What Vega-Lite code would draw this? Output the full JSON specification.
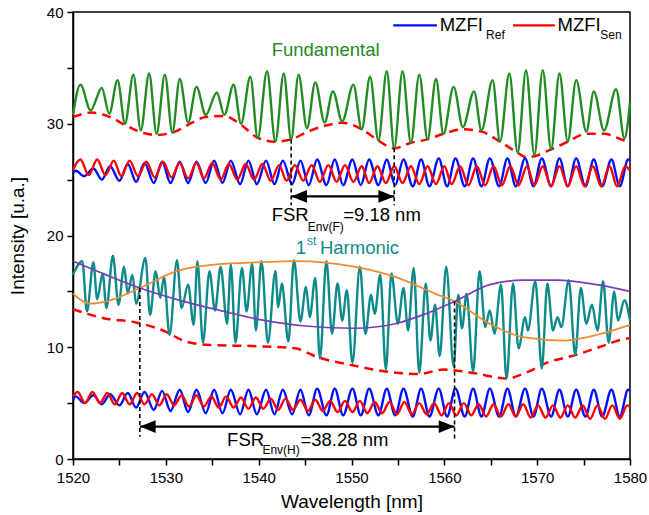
{
"$schema":"https://vega.github.io/schema/vega-lite/v6.json",
"width":557,"height":447,"autosize":{"type":"none"},
"padding":{"left":73,"top":12,"right":19,"bottom":56},
"background":"white",
"config":{"view":{"stroke":"black","strokeWidth":1.5},
"axis":{"grid":false,"domainColor":"black","domainWidth":1.5,"tickColor":"black","tickWidth":1.5,"tickSize":6,"labelFont":"Liberation Sans","labelFontSize":15,"labelColor":"black","titleFont":"Liberation Sans","titleFontSize":19,"titleFontWeight":"normal","titleColor":"black"},
"text":{"font":"Liberation Sans"}},
"datasets":{
"e":[
{"s":"EF","x":1520,"y":30.6},{"s":"EF","x":1522,"y":31.0},{"s":"EF","x":1524,"y":30.6},{"s":"EF","x":1525.6,"y":29.9},{"s":"EF","x":1527.5,"y":29.2},{"s":"EF","x":1529,"y":29.0},{"s":"EF","x":1531,"y":29.3},{"s":"EF","x":1532.4,"y":29.9},{"s":"EF","x":1534.3,"y":30.6},{"s":"EF","x":1536.3,"y":30.7},{"s":"EF","x":1538.1,"y":29.9},{"s":"EF","x":1540,"y":28.7},{"s":"EF","x":1541.8,"y":28.4},{"s":"EF","x":1543.5,"y":28.6},{"s":"EF","x":1545.3,"y":29.3},{"s":"EF","x":1548.1,"y":30.0},{"s":"EF","x":1549,"y":30.1},{"s":"EF","x":1551.1,"y":29.5},{"s":"EF","x":1552.9,"y":28.5},{"s":"EF","x":1554.6,"y":27.8},{"s":"EF","x":1556.4,"y":28.3},{"s":"EF","x":1558.2,"y":28.6},{"s":"EF","x":1559.9,"y":29.1},{"s":"EF","x":1562,"y":29.5},{"s":"EF","x":1564,"y":29.3},{"s":"EF","x":1566,"y":28.4},{"s":"EF","x":1567.9,"y":27.4},{"s":"EF","x":1568.8,"y":27.0},{"s":"EF","x":1569.7,"y":27.1},{"s":"EF","x":1571.5,"y":27.7},{"s":"EF","x":1573.3,"y":28.4},{"s":"EF","x":1575.3,"y":29.1},{"s":"EF","x":1577.2,"y":29.1},{"s":"EF","x":1579.4,"y":28.5},{"s":"EF","x":1580,"y":28.4},
{"s":"EH","x":1520,"y":13.4},{"s":"EH","x":1523.3,"y":12.6},{"s":"EH","x":1526.9,"y":12.2},{"s":"EH","x":1529.7,"y":11.5},{"s":"EH","x":1532.2,"y":10.5},{"s":"EH","x":1534.8,"y":10.2},{"s":"EH","x":1539.7,"y":10.1},{"s":"EH","x":1543.9,"y":9.9},{"s":"EH","x":1546.4,"y":9.1},{"s":"EH","x":1550,"y":8.4},{"s":"EH","x":1554,"y":7.8},{"s":"EH","x":1557.2,"y":7.6},{"s":"EH","x":1559.9,"y":8.0},{"s":"EH","x":1563.1,"y":7.7},{"s":"EH","x":1566.7,"y":7.2},{"s":"EH","x":1569,"y":7.8},{"s":"EH","x":1571,"y":8.6},{"s":"EH","x":1574.1,"y":9.3},{"s":"EH","x":1577,"y":10.1},{"s":"EH","x":1579.2,"y":10.7},{"s":"EH","x":1580,"y":10.8}
],
"c":[
{"s":"BU","x":1520,"y":25.6},{"s":"BU","x":1520.3,"y":25.8},{"s":"BU","x":1521.2,"y":25.3},{"s":"BU","x":1522.2,"y":26.0},{"s":"BU","x":1523.1,"y":25.0},{"s":"BU","x":1524.0,"y":26.2},{"s":"BU","x":1525.0,"y":24.9},{"s":"BU","x":1525.9,"y":26.4},{"s":"BU","x":1526.8,"y":24.8},{"s":"BU","x":1527.7,"y":26.5},{"s":"BU","x":1528.7,"y":24.7},{"s":"BU","x":1529.6,"y":26.6},{"s":"BU","x":1530.5,"y":24.7},{"s":"BU","x":1531.5,"y":26.6},{"s":"BU","x":1532.4,"y":24.7},{"s":"BU","x":1533.3,"y":26.6},{"s":"BU","x":1534.3,"y":24.7},{"s":"BU","x":1535.2,"y":26.7},{"s":"BU","x":1536.1,"y":24.7},{"s":"BU","x":1537.0,"y":26.7},{"s":"BU","x":1538.0,"y":24.6},{"s":"BU","x":1538.9,"y":26.7},{"s":"BU","x":1539.8,"y":24.6},{"s":"BU","x":1540.8,"y":26.7},{"s":"BU","x":1541.7,"y":24.6},{"s":"BU","x":1542.6,"y":26.7},{"s":"BU","x":1543.6,"y":24.6},{"s":"BU","x":1544.5,"y":26.7},{"s":"BU","x":1545.4,"y":24.5},{"s":"BU","x":1546.3,"y":26.8},{"s":"BU","x":1547.3,"y":24.5},{"s":"BU","x":1548.2,"y":26.8},{"s":"BU","x":1549.1,"y":24.5},{"s":"BU","x":1550.1,"y":26.8},{"s":"BU","x":1551.0,"y":24.5},{"s":"BU","x":1551.9,"y":26.8},{"s":"BU","x":1552.9,"y":24.5},{"s":"BU","x":1553.8,"y":26.8},{"s":"BU","x":1554.7,"y":24.5},{"s":"BU","x":1555.6,"y":26.8},{"s":"BU","x":1556.6,"y":24.4},{"s":"BU","x":1557.5,"y":26.8},{"s":"BU","x":1558.4,"y":24.4},{"s":"BU","x":1559.4,"y":26.9},{"s":"BU","x":1560.3,"y":24.4},{"s":"BU","x":1561.2,"y":26.9},{"s":"BU","x":1562.2,"y":24.4},{"s":"BU","x":1563.1,"y":26.9},{"s":"BU","x":1564.0,"y":24.4},{"s":"BU","x":1564.9,"y":26.9},{"s":"BU","x":1565.9,"y":24.4},{"s":"BU","x":1566.8,"y":26.9},{"s":"BU","x":1567.7,"y":24.4},{"s":"BU","x":1568.7,"y":26.9},{"s":"BU","x":1569.6,"y":24.4},{"s":"BU","x":1570.5,"y":26.9},{"s":"BU","x":1571.5,"y":24.4},{"s":"BU","x":1572.4,"y":26.9},{"s":"BU","x":1573.3,"y":24.4},{"s":"BU","x":1574.2,"y":26.9},{"s":"BU","x":1575.2,"y":24.4},{"s":"BU","x":1576.1,"y":26.8},{"s":"BU","x":1577.0,"y":24.4},{"s":"BU","x":1578.0,"y":26.8},{"s":"BU","x":1578.9,"y":24.4},{"s":"BU","x":1579.8,"y":26.8},{"s":"BU","x":1580,"y":26.7},
{"s":"RU","x":1520,"y":25.9},{"s":"RU","x":1520.8,"y":26.8},{"s":"RU","x":1521.7,"y":25.4},{"s":"RU","x":1522.6,"y":26.8},{"s":"RU","x":1523.5,"y":25.4},{"s":"RU","x":1524.4,"y":26.7},{"s":"RU","x":1525.2,"y":25.3},{"s":"RU","x":1526.1,"y":26.7},{"s":"RU","x":1527.0,"y":25.3},{"s":"RU","x":1527.9,"y":26.6},{"s":"RU","x":1528.8,"y":25.2},{"s":"RU","x":1529.7,"y":26.6},{"s":"RU","x":1530.6,"y":25.2},{"s":"RU","x":1531.5,"y":26.5},{"s":"RU","x":1532.4,"y":25.1},{"s":"RU","x":1533.3,"y":26.5},{"s":"RU","x":1534.1,"y":25.1},{"s":"RU","x":1535.0,"y":26.5},{"s":"RU","x":1535.9,"y":25.0},{"s":"RU","x":1536.8,"y":26.4},{"s":"RU","x":1537.7,"y":25.0},{"s":"RU","x":1538.6,"y":26.4},{"s":"RU","x":1539.5,"y":25.0},{"s":"RU","x":1540.4,"y":26.4},{"s":"RU","x":1541.3,"y":24.9},{"s":"RU","x":1542.2,"y":26.3},{"s":"RU","x":1543.0,"y":24.9},{"s":"RU","x":1543.9,"y":26.3},{"s":"RU","x":1544.8,"y":24.9},{"s":"RU","x":1545.7,"y":26.3},{"s":"RU","x":1546.6,"y":24.8},{"s":"RU","x":1547.5,"y":26.3},{"s":"RU","x":1548.4,"y":24.8},{"s":"RU","x":1549.3,"y":26.3},{"s":"RU","x":1550.2,"y":24.8},{"s":"RU","x":1551.1,"y":26.2},{"s":"RU","x":1551.9,"y":24.7},{"s":"RU","x":1552.8,"y":26.2},{"s":"RU","x":1553.7,"y":24.7},{"s":"RU","x":1554.6,"y":26.2},{"s":"RU","x":1555.5,"y":24.7},{"s":"RU","x":1556.4,"y":26.2},{"s":"RU","x":1557.3,"y":24.6},{"s":"RU","x":1558.2,"y":26.2},{"s":"RU","x":1559.1,"y":24.6},{"s":"RU","x":1560.0,"y":26.2},{"s":"RU","x":1560.8,"y":24.6},{"s":"RU","x":1561.7,"y":26.2},{"s":"RU","x":1562.6,"y":24.5},{"s":"RU","x":1563.5,"y":26.2},{"s":"RU","x":1564.4,"y":24.5},{"s":"RU","x":1565.3,"y":26.2},{"s":"RU","x":1566.2,"y":24.5},{"s":"RU","x":1567.1,"y":26.2},{"s":"RU","x":1568.0,"y":24.5},{"s":"RU","x":1568.9,"y":26.2},{"s":"RU","x":1569.7,"y":24.5},{"s":"RU","x":1570.6,"y":26.2},{"s":"RU","x":1571.5,"y":24.4},{"s":"RU","x":1572.4,"y":26.2},{"s":"RU","x":1573.3,"y":24.4},{"s":"RU","x":1574.2,"y":26.2},{"s":"RU","x":1575.1,"y":24.4},{"s":"RU","x":1576.0,"y":26.2},{"s":"RU","x":1576.9,"y":24.4},{"s":"RU","x":1577.8,"y":26.2},{"s":"RU","x":1578.6,"y":24.4},{"s":"RU","x":1579.5,"y":26.2},{"s":"RU","x":1580,"y":25.8},
{"s":"BL","x":1520,"y":5.3},{"s":"BL","x":1520.3,"y":5.6},{"s":"BL","x":1521.2,"y":5.0},{"s":"BL","x":1522.2,"y":5.7},{"s":"BL","x":1523.1,"y":4.9},{"s":"BL","x":1524.0,"y":5.8},{"s":"BL","x":1525.0,"y":4.8},{"s":"BL","x":1525.9,"y":5.9},{"s":"BL","x":1526.8,"y":4.6},{"s":"BL","x":1527.7,"y":6.0},{"s":"BL","x":1528.7,"y":4.4},{"s":"BL","x":1529.6,"y":6.1},{"s":"BL","x":1530.5,"y":4.3},{"s":"BL","x":1531.5,"y":6.2},{"s":"BL","x":1532.4,"y":4.2},{"s":"BL","x":1533.3,"y":6.2},{"s":"BL","x":1534.3,"y":4.1},{"s":"BL","x":1535.2,"y":6.2},{"s":"BL","x":1536.1,"y":4.1},{"s":"BL","x":1537.0,"y":6.2},{"s":"BL","x":1538.0,"y":4.0},{"s":"BL","x":1538.9,"y":6.2},{"s":"BL","x":1539.8,"y":4.0},{"s":"BL","x":1540.8,"y":6.2},{"s":"BL","x":1541.7,"y":4.0},{"s":"BL","x":1542.6,"y":6.2},{"s":"BL","x":1543.6,"y":4.0},{"s":"BL","x":1544.5,"y":6.2},{"s":"BL","x":1545.4,"y":3.9},{"s":"BL","x":1546.3,"y":6.3},{"s":"BL","x":1547.3,"y":3.9},{"s":"BL","x":1548.2,"y":6.3},{"s":"BL","x":1549.1,"y":3.9},{"s":"BL","x":1550.1,"y":6.3},{"s":"BL","x":1551.0,"y":3.9},{"s":"BL","x":1551.9,"y":6.3},{"s":"BL","x":1552.9,"y":3.9},{"s":"BL","x":1553.8,"y":6.3},{"s":"BL","x":1554.7,"y":3.9},{"s":"BL","x":1555.6,"y":6.3},{"s":"BL","x":1556.6,"y":3.8},{"s":"BL","x":1557.5,"y":6.3},{"s":"BL","x":1558.4,"y":3.8},{"s":"BL","x":1559.4,"y":6.3},{"s":"BL","x":1560.3,"y":3.8},{"s":"BL","x":1561.2,"y":6.3},{"s":"BL","x":1562.2,"y":3.8},{"s":"BL","x":1563.1,"y":6.3},{"s":"BL","x":1564.0,"y":3.8},{"s":"BL","x":1564.9,"y":6.3},{"s":"BL","x":1565.9,"y":3.8},{"s":"BL","x":1566.8,"y":6.3},{"s":"BL","x":1567.7,"y":3.8},{"s":"BL","x":1568.7,"y":6.3},{"s":"BL","x":1569.6,"y":3.8},{"s":"BL","x":1570.5,"y":6.3},{"s":"BL","x":1571.5,"y":3.8},{"s":"BL","x":1572.4,"y":6.2},{"s":"BL","x":1573.3,"y":3.8},{"s":"BL","x":1574.2,"y":6.2},{"s":"BL","x":1575.2,"y":3.8},{"s":"BL","x":1576.1,"y":6.2},{"s":"BL","x":1577.0,"y":3.8},{"s":"BL","x":1578.0,"y":6.2},{"s":"BL","x":1578.9,"y":3.8},{"s":"BL","x":1579.8,"y":6.2},{"s":"BL","x":1580,"y":6.1},
{"s":"RL","x":1520,"y":5.6},{"s":"RL","x":1520.5,"y":6.0},{"s":"RL","x":1521.3,"y":5.0},{"s":"RL","x":1522.1,"y":6.0},{"s":"RL","x":1522.9,"y":5.0},{"s":"RL","x":1523.7,"y":5.9},{"s":"RL","x":1524.5,"y":4.9},{"s":"RL","x":1525.3,"y":5.9},{"s":"RL","x":1526.1,"y":4.9},{"s":"RL","x":1526.9,"y":5.9},{"s":"RL","x":1527.7,"y":4.9},{"s":"RL","x":1528.5,"y":5.8},{"s":"RL","x":1529.3,"y":4.8},{"s":"RL","x":1530.1,"y":5.8},{"s":"RL","x":1530.9,"y":4.8},{"s":"RL","x":1531.7,"y":5.7},{"s":"RL","x":1532.5,"y":4.7},{"s":"RL","x":1533.3,"y":5.7},{"s":"RL","x":1534.1,"y":4.7},{"s":"RL","x":1534.9,"y":5.6},{"s":"RL","x":1535.7,"y":4.6},{"s":"RL","x":1536.5,"y":5.6},{"s":"RL","x":1537.3,"y":4.6},{"s":"RL","x":1538.1,"y":5.5},{"s":"RL","x":1538.9,"y":4.5},{"s":"RL","x":1539.7,"y":5.5},{"s":"RL","x":1540.5,"y":4.5},{"s":"RL","x":1541.3,"y":5.4},{"s":"RL","x":1542.1,"y":4.4},{"s":"RL","x":1542.9,"y":5.4},{"s":"RL","x":1543.7,"y":4.4},{"s":"RL","x":1544.5,"y":5.3},{"s":"RL","x":1545.3,"y":4.3},{"s":"RL","x":1546.1,"y":5.3},{"s":"RL","x":1546.9,"y":4.3},{"s":"RL","x":1547.7,"y":5.2},{"s":"RL","x":1548.5,"y":4.2},{"s":"RL","x":1549.3,"y":5.2},{"s":"RL","x":1550.1,"y":4.2},{"s":"RL","x":1550.9,"y":5.2},{"s":"RL","x":1551.7,"y":4.1},{"s":"RL","x":1552.5,"y":5.1},{"s":"RL","x":1553.3,"y":4.1},{"s":"RL","x":1554.1,"y":5.1},{"s":"RL","x":1554.9,"y":4.0},{"s":"RL","x":1555.7,"y":5.1},{"s":"RL","x":1556.5,"y":4.0},{"s":"RL","x":1557.3,"y":5.0},{"s":"RL","x":1558.1,"y":4.0},{"s":"RL","x":1558.9,"y":5.0},{"s":"RL","x":1559.7,"y":3.9},{"s":"RL","x":1560.5,"y":5.0},{"s":"RL","x":1561.3,"y":3.9},{"s":"RL","x":1562.1,"y":5.0},{"s":"RL","x":1562.9,"y":3.9},{"s":"RL","x":1563.7,"y":4.9},{"s":"RL","x":1564.5,"y":3.8},{"s":"RL","x":1565.3,"y":4.9},{"s":"RL","x":1566.1,"y":3.8},{"s":"RL","x":1566.9,"y":4.9},{"s":"RL","x":1567.7,"y":3.8},{"s":"RL","x":1568.5,"y":4.9},{"s":"RL","x":1569.3,"y":3.7},{"s":"RL","x":1570.1,"y":4.8},{"s":"RL","x":1570.9,"y":3.7},{"s":"RL","x":1571.7,"y":4.8},{"s":"RL","x":1572.5,"y":3.7},{"s":"RL","x":1573.3,"y":4.8},{"s":"RL","x":1574.1,"y":3.7},{"s":"RL","x":1574.9,"y":4.8},{"s":"RL","x":1575.7,"y":3.6},{"s":"RL","x":1576.5,"y":4.8},{"s":"RL","x":1577.3,"y":3.6},{"s":"RL","x":1578.1,"y":4.8},{"s":"RL","x":1578.9,"y":3.6},{"s":"RL","x":1579.7,"y":4.8},{"s":"RL","x":1580,"y":4.7},
{"s":"F","x":1520,"y":30.8},{"s":"F","x":1520.8,"y":33.5},{"s":"F","x":1521.9,"y":31.2},{"s":"F","x":1523.1,"y":33.2},{"s":"F","x":1523.9,"y":30.9},{"s":"F","x":1524.8,"y":33.9},{"s":"F","x":1525.6,"y":30.0},{"s":"F","x":1526.5,"y":34.4},{"s":"F","x":1527.3,"y":29.4},{"s":"F","x":1528.2,"y":34.5},{"s":"F","x":1529.0,"y":29.1},{"s":"F","x":1529.9,"y":34.4},{"s":"F","x":1530.7,"y":29.2},{"s":"F","x":1531.5,"y":34.0},{"s":"F","x":1532.4,"y":30.1},{"s":"F","x":1533.3,"y":33.3},{"s":"F","x":1534.3,"y":30.8},{"s":"F","x":1535.5,"y":32.8},{"s":"F","x":1536.3,"y":30.8},{"s":"F","x":1537.3,"y":33.5},{"s":"F","x":1538.1,"y":30.0},{"s":"F","x":1539.1,"y":34.2},{"s":"F","x":1539.9,"y":28.7},{"s":"F","x":1540.9,"y":34.7},{"s":"F","x":1541.8,"y":28.4},{"s":"F","x":1542.7,"y":34.5},{"s":"F","x":1543.5,"y":28.6},{"s":"F","x":1544.3,"y":34.4},{"s":"F","x":1545.2,"y":29.6},{"s":"F","x":1546.1,"y":33.7},{"s":"F","x":1547.1,"y":30.1},{"s":"F","x":1548.0,"y":32.9},{"s":"F","x":1549.0,"y":30.2},{"s":"F","x":1550.2,"y":33.5},{"s":"F","x":1551.1,"y":29.5},{"s":"F","x":1552.0,"y":34.2},{"s":"F","x":1552.9,"y":28.5},{"s":"F","x":1553.8,"y":34.7},{"s":"F","x":1554.6,"y":27.8},{"s":"F","x":1555.5,"y":34.7},{"s":"F","x":1556.4,"y":28.3},{"s":"F","x":1557.3,"y":34.4},{"s":"F","x":1558.2,"y":28.6},{"s":"F","x":1559.1,"y":34.0},{"s":"F","x":1559.9,"y":29.1},{"s":"F","x":1561.0,"y":33.3},{"s":"F","x":1562.0,"y":29.7},{"s":"F","x":1563.2,"y":32.9},{"s":"F","x":1564.0,"y":29.4},{"s":"F","x":1565.2,"y":33.9},{"s":"F","x":1566.0,"y":28.4},{"s":"F","x":1567.0,"y":34.5},{"s":"F","x":1567.9,"y":27.4},{"s":"F","x":1568.8,"y":34.8},{"s":"F","x":1569.7,"y":27.2},{"s":"F","x":1570.6,"y":34.8},{"s":"F","x":1571.5,"y":27.7},{"s":"F","x":1572.4,"y":34.5},{"s":"F","x":1573.3,"y":28.4},{"s":"F","x":1574.2,"y":33.9},{"s":"F","x":1575.3,"y":29.3},{"s":"F","x":1576.1,"y":32.9},{"s":"F","x":1577.2,"y":29.4},{"s":"F","x":1578.5,"y":33.1},{"s":"F","x":1579.4,"y":28.7},{"s":"F","x":1580,"y":31.9},
{"s":"H","x":1520,"y":16.5},{"s":"H","x":1521.0,"y":17.7},{"s":"H","x":1521.5,"y":13.2},{"s":"H","x":1522.2,"y":17.6},{"s":"H","x":1522.6,"y":14.3},{"s":"H","x":1523.2,"y":16.6},{"s":"H","x":1523.6,"y":13.5},{"s":"H","x":1524.3,"y":18.2},{"s":"H","x":1524.9,"y":13.8},{"s":"H","x":1525.5,"y":17.2},{"s":"H","x":1525.9,"y":14.8},{"s":"H","x":1526.4,"y":16.5},{"s":"H","x":1526.8,"y":13.9},{"s":"H","x":1527.8,"y":18.0},{"s":"H","x":1528.3,"y":12.9},{"s":"H","x":1528.9,"y":16.8},{"s":"H","x":1529.4,"y":14.4},{"s":"H","x":1529.8,"y":16.3},{"s":"H","x":1530.4,"y":11.1},{"s":"H","x":1531.2,"y":17.8},{"s":"H","x":1531.7,"y":13.5},{"s":"H","x":1532.4,"y":15.6},{"s":"H","x":1533.0,"y":12.0},{"s":"H","x":1533.4,"y":17.7},{"s":"H","x":1534.0,"y":10.4},{"s":"H","x":1534.7,"y":16.8},{"s":"H","x":1535.3,"y":13.3},{"s":"H","x":1535.9,"y":17.2},{"s":"H","x":1536.6,"y":12.1},{"s":"H","x":1537.0,"y":17.4},{"s":"H","x":1537.5,"y":10.4},{"s":"H","x":1538.2,"y":17.1},{"s":"H","x":1538.7,"y":13.2},{"s":"H","x":1539.3,"y":17.5},{"s":"H","x":1539.7,"y":11.5},{"s":"H","x":1540.3,"y":17.7},{"s":"H","x":1541.0,"y":10.4},{"s":"H","x":1541.8,"y":16.8},{"s":"H","x":1542.1,"y":13.6},{"s":"H","x":1542.5,"y":15.7},{"s":"H","x":1543.2,"y":10.5},{"s":"H","x":1543.8,"y":17.8},{"s":"H","x":1544.5,"y":12.3},{"s":"H","x":1545.1,"y":15.4},{"s":"H","x":1545.5,"y":12.7},{"s":"H","x":1546.1,"y":16.2},{"s":"H","x":1546.6,"y":9.0},{"s":"H","x":1547.3,"y":17.7},{"s":"H","x":1547.9,"y":11.2},{"s":"H","x":1548.5,"y":15.7},{"s":"H","x":1549.0,"y":12.4},{"s":"H","x":1549.5,"y":15.1},{"s":"H","x":1550.1,"y":8.6},{"s":"H","x":1550.9,"y":17.2},{"s":"H","x":1551.5,"y":11.2},{"s":"H","x":1552.1,"y":14.7},{"s":"H","x":1552.5,"y":13.0},{"s":"H","x":1553.1,"y":16.5},{"s":"H","x":1553.7,"y":8.0},{"s":"H","x":1554.3,"y":16.6},{"s":"H","x":1555.0,"y":12.1},{"s":"H","x":1555.6,"y":15.3},{"s":"H","x":1556.1,"y":11.5},{"s":"H","x":1556.7,"y":17.1},{"s":"H","x":1557.3,"y":7.7},{"s":"H","x":1558.0,"y":15.7},{"s":"H","x":1558.5,"y":10.6},{"s":"H","x":1559.0,"y":13.8},{"s":"H","x":1559.5,"y":9.2},{"s":"H","x":1560.2,"y":17.2},{"s":"H","x":1561.0,"y":8.3},{"s":"H","x":1561.5,"y":14.7},{"s":"H","x":1561.9,"y":11.7},{"s":"H","x":1562.4,"y":14.8},{"s":"H","x":1563.1,"y":7.8},{"s":"H","x":1563.8,"y":16.8},{"s":"H","x":1564.4,"y":11.8},{"s":"H","x":1564.9,"y":13.3},{"s":"H","x":1565.4,"y":11.2},{"s":"H","x":1566.1,"y":15.6},{"s":"H","x":1566.7,"y":7.2},{"s":"H","x":1567.4,"y":15.7},{"s":"H","x":1568.0,"y":9.9},{"s":"H","x":1568.7,"y":12.7},{"s":"H","x":1569.0,"y":11.5},{"s":"H","x":1569.8,"y":15.9},{"s":"H","x":1570.5,"y":8.1},{"s":"H","x":1571.1,"y":15.7},{"s":"H","x":1571.7,"y":11.5},{"s":"H","x":1572.2,"y":12.7},{"s":"H","x":1572.6,"y":11.8},{"s":"H","x":1573.4,"y":16.0},{"s":"H","x":1574.1,"y":9.3},{"s":"H","x":1574.7,"y":15.3},{"s":"H","x":1575.3,"y":12.1},{"s":"H","x":1575.9,"y":13.8},{"s":"H","x":1576.5,"y":11.5},{"s":"H","x":1577.1,"y":15.9},{"s":"H","x":1577.7,"y":10.4},{"s":"H","x":1578.3,"y":15.0},{"s":"H","x":1578.7,"y":12.4},{"s":"H","x":1579.4,"y":14.2},{"s":"H","x":1580,"y":12.4},
{"s":"O","x":1520,"y":14.8},{"s":"O","x":1521.8,"y":13.9},{"s":"O","x":1524,"y":14.2},{"s":"O","x":1527.2,"y":15.3},{"s":"O","x":1531.5,"y":16.9},{"s":"O","x":1536.9,"y":17.5},{"s":"O","x":1540,"y":17.6},{"s":"O","x":1543.9,"y":17.7},{"s":"O","x":1550.4,"y":17.2},{"s":"O","x":1554.7,"y":16.3},{"s":"O","x":1559.0,"y":14.8},{"s":"O","x":1561.1,"y":14.1},{"s":"O","x":1564.9,"y":12.1},{"s":"O","x":1568.5,"y":10.9},{"s":"O","x":1572.8,"y":10.6},{"s":"O","x":1576.4,"y":11.1},{"s":"O","x":1580,"y":12.0},
{"s":"P","x":1520,"y":17.7},{"s":"P","x":1523.5,"y":16.5},{"s":"P","x":1527.2,"y":15.3},{"s":"P","x":1531.5,"y":14.2},{"s":"P","x":1535.8,"y":13.3},{"s":"P","x":1540.0,"y":12.5},{"s":"P","x":1545.0,"y":11.9},{"s":"P","x":1550.4,"y":11.7},{"s":"P","x":1554.7,"y":12.1},{"s":"P","x":1558,"y":13.0},{"s":"P","x":1561.1,"y":14.1},{"s":"P","x":1564.9,"y":15.6},{"s":"P","x":1568.5,"y":16.0},{"s":"P","x":1572.1,"y":16.0},{"s":"P","x":1576.4,"y":15.6},{"s":"P","x":1580,"y":15.0}
],
"v":[{"s":"K","x":1543.5,"y":28.6,"y2":22.7},{"s":"K","x":1554.6,"y":27.8,"y2":22.7},{"s":"K","x":1527.2,"y":15.3,"y2":2.0},{"s":"K","x":1561.1,"y":14.1,"y2":1.7}],
"h":[{"s":"K","x":1543.5,"x2":1554.6,"y":23.5},{"s":"K","x":1527.2,"x2":1561.1,"y":2.9},{"s":"BU","x":1554.5,"x2":1559.2,"y":38.8},{"s":"RU","x":1567.4,"x2":1571.9,"y":38.8}],
"a":[{"s":"K","x":1543.5,"y":23.5,"d":"L"},{"s":"K","x":1554.6,"y":23.5,"d":"R"},{"s":"K","x":1527.2,"y":2.9,"d":"L"},{"s":"K","x":1561.1,"y":2.9,"d":"R"}],
"t":[{"s":"F","x":1541.4,"y":36.6,"t":"Fundamental"},{"s":"H","x":1544.0,"y":18.9,"t":"1"},{"s":"H","x":1546.6,"y":18.9,"t":"Harmonic"},{"s":"K","x":1541.4,"y":21.8,"t":"FSR"},{"s":"K","x":1549.1,"y":21.8,"t":"=9.18 nm"},{"s":"K","x":1536.6,"y":1.7,"t":"FSR"},{"s":"K","x":1544.5,"y":1.7,"t":"=38.28 nm"},{"s":"K","x":1559.5,"y":38.8,"t":"MZFI"},{"s":"K","x":1572.2,"y":38.8,"t":"MZFI"}],
"st":[{"s":"H","x":1545.2,"y":19.5,"t":"st"},{"s":"K","x":1545.3,"y":20.8,"t":"Env(F)"},{"s":"K","x":1540.4,"y":0.8,"t":"Env(H)"},{"s":"K","x":1564.5,"y":37.9,"t":"Ref"},{"s":"K","x":1576.8,"y":37.9,"t":"Sen"}]
},
"encoding":{
"x":{"field":"x","type":"quantitative","title":"Wavelength [nm]","scale":{"domain":[1520,1580],"nice":false,"zero":false},"axis":{"values":[1520,1525,1530,1535,1540,1545,1550,1555,1560,1565,1570,1575,1580],"labelExpr":"datum.value % 10 == 0 ? datum.label : ''","format":"d","labelPadding":5,"titlePadding":7,"labelFlush":false}},
"y":{"field":"y","type":"quantitative","title":"Intensity [u.a.]","scale":{"domain":[0,40],"nice":false,"zero":false},"axis":{"values":[0,5,10,15,20,25,30,35,40],"labelExpr":"datum.value % 10 == 0 ? datum.label : ''","labelPadding":4,"titlePadding":19,"labelFlush":false}},
"color":{"field":"s","type":"nominal","legend":null,"scale":{"domain":["F","H","O","P","BU","RU","BL","RL","EF","EH","K"],"range":["#228b22","#0e8a8a","#f08a30","#7a3db8","#0010ff","#ff0000","#0010ff","#ff0000","#ff0000","#ff0000","#000000"]}}
},
"layer":[
{"data":{"name":"e"},"mark":{"type":"line","interpolate":"monotone","strokeWidth":2.5,"strokeDash":[9,6]},"encoding":{}},
{"data":{"name":"c"},"transform":[{"filter":"datum.s != 'O' && datum.s != 'P'"}],"mark":{"type":"line","interpolate":"monotone","strokeWidth":2.4},"encoding":{}},
{"data":{"name":"c"},"transform":[{"filter":"datum.s == 'O' || datum.s == 'P'"}],"mark":{"type":"line","interpolate":"monotone","strokeWidth":1.7},"encoding":{}},
{"data":{"name":"v"},"mark":{"type":"rule","strokeWidth":1.6,"strokeDash":[4,3]},"encoding":{"y2":{"field":"y2"}}},
{"data":{"name":"h"},"mark":{"type":"rule","strokeWidth":2.3},"encoding":{"x2":{"field":"x2"}}},
{"data":{"name":"a"},"mark":{"type":"point","filled":true,"opacity":1,"size":1000,"strokeWidth":0},"encoding":{"shape":{"field":"d","type":"nominal","legend":null,"scale":{"domain":["L","R"],"range":["M0,0L1,-0.4L1,0.4Z","M0,0L-1,-0.4L-1,0.4Z"]}}}},
{"data":{"name":"t"},"mark":{"type":"text","align":"left","baseline":"middle","fontSize":18.5},"encoding":{"text":{"field":"t"}}},
{"data":{"name":"st"},"mark":{"type":"text","align":"left","baseline":"middle","fontSize":12},"encoding":{"text":{"field":"t"}}}
]
}
